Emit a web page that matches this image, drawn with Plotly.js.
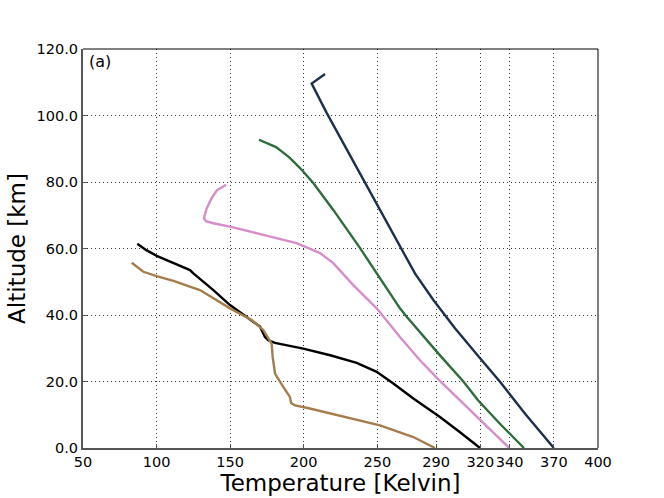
<!DOCTYPE html>
<html>
<head>
<meta charset="utf-8">
<script src="https://cdn.plot.ly/plotly-3.0.1.min.js"></script>
<style>
  html, body { margin: 0; padding: 0; background: #fff; }
  #chart { width: 664px; height: 498px; }
</style>
</head>
<body>
<div id="chart"></div>
<script>
(function () {
  'use strict';

  // Temperature profiles (T in K, altitude in km)
  var navyT  = [214.5, 205.4, 215.6, 226.9, 239.4, 249.6, 258.6, 267.7, 275.6, 288.1, 302.8, 318, 333.4, 351, 370];
  var navyZ  = [112.5, 109.6, 100.8, 91.7, 81.7, 73.7, 66.6, 59.1, 52.5, 44.5, 36, 28, 19.9, 10, 0];

  var greenT = [169.6, 181.2, 190, 197.5, 206.5, 220.1, 238.3, 251.8, 265.4, 270, 276.7, 293.5, 308.5, 318.6, 334, 349.7];
  var greenZ = [92.7, 90.5, 87.5, 84.2, 79.7, 71.6, 60.1, 51, 42, 39.5, 36, 27.4, 20, 14.3, 7, 0];

  var pinkT  = [147.2, 141, 137.5, 134, 132.2, 133.5, 138.6, 149.9, 172.5, 195.2, 211.1, 220.1, 233.7, 249.6, 265.4, 279, 292, 306.2, 323, 339.7];
  var pinkZ  = [79.2, 77.5, 75.2, 72, 69.1, 68.2, 67.6, 66.6, 64.1, 61.6, 58.6, 55.6, 49, 42, 33.4, 26.4, 20.4, 14.3, 7, 0];

  var blackT = [86.9, 93, 100.1, 108, 115.9, 122.7, 125, 131.8, 138.6, 149.9, 161.2, 170.3, 173.7, 175.9, 180.5, 199.7, 218, 236, 249.6, 260.9, 274.5, 292.6, 306, 319.8];
  var blackZ = [61.4, 59.5, 57.8, 56.3, 55, 53.5, 52.5, 50, 47.5, 43, 39.5, 36.5, 33.4, 32.4, 31.6, 29.9, 27.9, 25.6, 22.9, 19.4, 14.9, 9.3, 4.8, 0];

  var brownT = [83.1, 91, 100.1, 112, 122, 129.5, 149.9, 164.6, 172.5, 178.2, 178.9, 180.5, 186.1, 190.7, 191.4, 194.1, 202, 229.2, 251.8, 274.5, 289.2];
  var brownZ = [55.7, 53, 51.7, 50.2, 48.6, 47.5, 42, 38.5, 35.5, 31.4, 27.4, 22.4, 18.4, 15.3, 13.5, 12.8, 12.1, 9.3, 6.8, 3.3, 0];

  var xTicks = [50, 100, 150, 200, 250, 290, 320, 340, 370, 400];
  var yTicks = [0, 20, 40, 60, 80, 100, 120];

  var COLORS = {
    navy: '#1c2f4c',
    green: '#2e6d3b',
    pink: '#d78dc9',
    black: '#000000',
    brown: '#a57c4b',
    spine: '#555555',
  };

  function profile(x, y, color) {
    return {
      x: x, y: y,
      type: 'scatter',
      mode: 'lines',
      line: { color: color, width: 2.4 },
      hoverinfo: 'skip',
      showlegend: false,
    };
  }

  var traces = [
    profile(navyT, navyZ, COLORS.navy),
    profile(greenT, greenZ, COLORS.green),
    profile(pinkT, pinkZ, COLORS.pink),
    profile(blackT, blackZ, COLORS.black),
    profile(brownT, brownZ, COLORS.brown),
  ];

  var axisBase = {
    showgrid: true,
    gridcolor: '#333333',
    gridwidth: 1,
    griddash: '1px,3px',
    zeroline: false,
    showline: true,
    linecolor: COLORS.spine,
    linewidth: 2,
    ticks: 'inside',
    ticklen: 4,
    tickcolor: COLORS.spine,
    tickfont: { family: 'DejaVu Sans, sans-serif', size: 14.5, color: '#000' },
  };

  var layout = {
    width: 664,
    height: 498,
    paper_bgcolor: '#ffffff',
    plot_bgcolor: '#ffffff',
    margin: { l: 83, r: 66, t: 49, b: 50 },
    font: { family: 'DejaVu Sans, sans-serif', color: '#000' },
    xaxis: Object.assign({}, axisBase, {
      range: [50, 400],
      tickvals: xTicks,
      ticktext: xTicks.map(String),
      tickangle: 0,
      title: { text: 'Temperature [Kelvin]', font: { size: 23 }, standoff: 2 },
    }),
    yaxis: Object.assign({}, axisBase, {
      range: [0, 120],
      tickvals: yTicks,
      tickformat: '.1f',
      title: { text: 'Altitude [km]', font: { size: 23 }, standoff: 5 },
    }),
    shapes: [
      { type: 'line', xref: 'paper', yref: 'paper', x0: 0, x1: 1, y0: 1, y1: 1,
        line: { color: '#000', width: 1 } },
      { type: 'line', xref: 'paper', yref: 'paper', x0: 1, x1: 1, y0: 0, y1: 1,
        line: { color: '#000', width: 1 } },
    ],
    annotations: [{
      xref: 'paper', yref: 'paper',
      x: 0.008, y: 0.997,
      xanchor: 'left', yanchor: 'top',
      text: '(a)',
      showarrow: false,
      font: { size: 16, color: '#000' },
    }],
  };

  Plotly.newPlot('chart', traces, layout, { displayModeBar: false, staticPlot: true });
})();
</script>
</body>
</html>
